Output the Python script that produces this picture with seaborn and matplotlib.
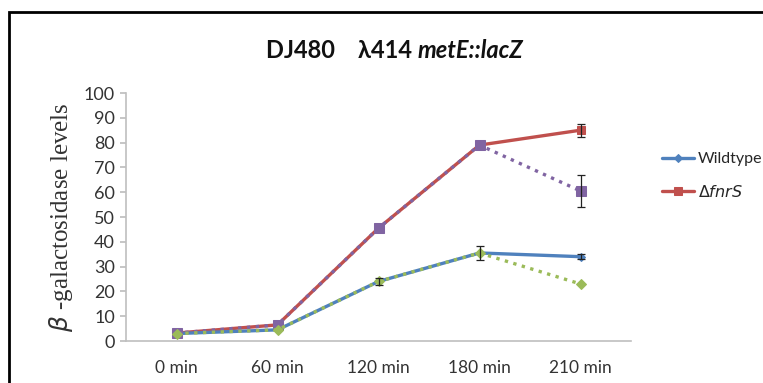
import matplotlib
matplotlib.use('Agg')
import matplotlib.pyplot as plt
import seaborn as sns
import numpy as np
import pandas as pd
from matplotlib.patches import Rectangle

# data
times = ['0 min', '60 min', '120 min', '180 min', '210 min']
wildtype = [3.0, 4.5, 24.0, 35.5, 34.0]
wildtype_err = [0, 0, 0, 0, 1.0]
fnrs = [3.2, 6.5, 45.5, 79.0, 85.0]
fnrs_err = [0, 0, 0, 0, 2.7]
fnrs_dot = [3.2, 6.5, 45.5, 79.0, 60.5]
fnrs_dot_err = [0, 0, 0, 0, 6.5]
wt_dot = [3.0, 4.5, 24.0, 35.5, 23.0]
wt_dot_err = [0, 0, 1.6, 3.0, 0]

BLUE = '#4F81BD'
RED = '#C0504D'
PURPLE = '#8064A2'
GREEN = '#9BBB59'
GREY = '#BFBFBF'

sns.set_theme(style='white')
plt.rcParams['font.family'] = ['Lato', 'DejaVu Sans']

fig = plt.figure(figsize=(7.63, 3.83), dpi=100)
ax = fig.add_axes([126 / 763, 42 / 383, 505 / 763, 248 / 383])

x = np.arange(len(times))

series = [
    (fnrs, fnrs_err, RED, 's', 6, '-', r'$\Delta$$\it{fnrS}$'),
    (wildtype, wildtype_err, BLUE, 'D', 4, '-', 'Wildtype'),
    (fnrs_dot, fnrs_dot_err, PURPLE, 's', 6.5, ':', None),
    (wt_dot, wt_dot_err, GREEN, 'D', 5, ':', None),
]

for vals, err, col, mk, ms, ls, lab in series:
    df = pd.DataFrame({'time': x, 'value': vals})
    sns.lineplot(data=df, x='time', y='value', ax=ax, color=col, marker=mk,
                 markersize=ms, markeredgecolor=col, linewidth=2.4,
                 linestyle=ls, label=lab, legend=False, zorder=3)
    e = np.array(err)
    idx = e > 0
    ax.errorbar(x[idx], np.array(vals)[idx], yerr=e[idx], fmt='none',
                ecolor='#222222', elinewidth=0.9, capsize=3, capthick=0.9, zorder=4)

ax.set_xlim(-0.5, len(times) - 0.5)
ax.set_ylim(0, 100)
ax.set_yticks(range(0, 101, 10))
ax.set_xticks(x)
ax.set_xticklabels(times)
ax.set_xlabel('')
ax.set_ylabel(r'$\beta$ -galactosidase levels', family='Liberation Serif',
              fontsize=18, color='#333333', labelpad=6)
ax.tick_params(axis='y', which='both', left=True, length=4, color=GREY,
               labelsize=13, labelcolor='#333333', pad=4)
ax.tick_params(axis='x', bottom=False, labelsize=12.5, labelcolor='#333333', pad=8)
for s in ['top', 'right']:
    ax.spines[s].set_visible(False)
for s in ['left', 'bottom']:
    ax.spines[s].set_color(GREY)
    ax.spines[s].set_linewidth(1.2)

# legend only for the two solid series
handles, labels = ax.get_legend_handles_labels()
order = [labels.index('Wildtype'), 1 - labels.index('Wildtype')]
fig.legend([handles[i] for i in order], [labels[i] for i in order],
           loc='center left', bbox_to_anchor=(662 / 763, 0.54), frameon=False,
           fontsize=11.5, handlelength=2.0, labelspacing=1.1, handletextpad=0.25,
           borderpad=0, borderaxespad=0)

# title: bold part then bold-italic part
t1 = fig.text(266 / 763, 0.868, 'DJ480    λ414', ha='left', va='center',
              fontsize=17, fontweight='bold', color='#111111')
fig.canvas.draw()
bb = t1.get_window_extent(renderer=fig.canvas.get_renderer())
fig.text((bb.x1 + 6) / fig.bbox.width, 0.868, 'metE::lacZ', ha='left', va='center',
         fontsize=17, fontweight='bold', fontstyle='italic', color='#111111')

# outer frame of the original chart
fig.add_artist(Rectangle((9 / 763, -0.2), 1.2, (383 - 12) / 383 + 0.2,
                         transform=fig.transFigure, fill=False,
                         edgecolor='black', linewidth=2, clip_on=False))

fig.savefig('out.png', dpi=100)
